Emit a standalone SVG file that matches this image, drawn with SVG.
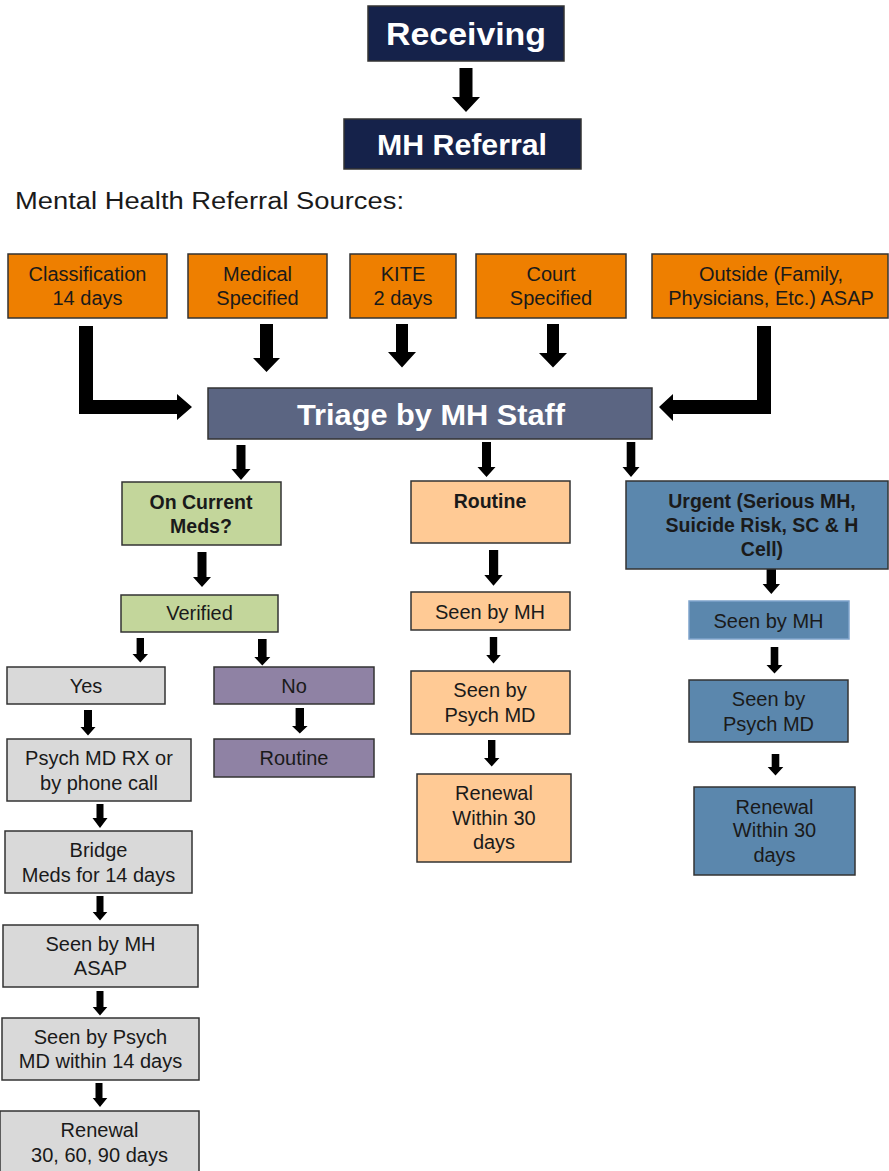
<svg xmlns="http://www.w3.org/2000/svg" width="889" height="1171" viewBox="0 0 889 1171">
<style>
.b{stroke:#333;stroke-width:1.5}
.navy{fill:#15224A}
.org{fill:#EE7F00}
.tri{fill:#5B6582}
.grn{fill:#C3D69B}
.pch{fill:#FFCA95}
.blu{fill:#5B87AD}
.gry{fill:#D9D9D9}
.pur{fill:#8F82A4}
text{font-family:"Liberation Sans",Arial,sans-serif;text-anchor:middle;fill:#1a1a1a;font-size:20px}
.wb{fill:#fff;font-weight:bold}
.bd{font-weight:bold}
.arr{fill:#000}
</style>
<rect width="889" height="1171" fill="#fff"/>
<g id="connectors" class="arr">
<polygon points="459.5,68 472.5,68 472.5,97 480,97 466,112 452,97 459.5,97"/>
<polygon points="79,326 93,326 93,400 177,400 177,394 192,407 177,420 177,414 79,414"/>
<polygon points="757,326 771,326 771,414 673,414 673,421 659,407 673,394 673,400 757,400"/>
<polygon points="260,324 273,324 273,358 280,358 266.5,372 253,358 260,358"/>
<polygon points="396,324 408,324 408,352 416,352 402,367.5 388,352 396,352"/>
<polygon points="547,324 559,324 559,353 567,353 553,367.5 539,353 547,353"/>
<polygon points="236.5,445 245.5,445 245.5,469 250.5,469 241,480 231.5,469 236.5,469"/>
<polygon points="482,442 491,442 491,467 495.5,467 486.5,477 477.5,467 482,467"/>
<polygon points="626.7,442 635.3,442 635.3,467 639.5,467 631,477 622.5,467 626.7,467"/>
<polygon points="197.5,552 206.5,552 206.5,577 211,577 202,587 193,577 197.5,577"/>
<polygon points="136.6,638 144,638 144,654 148,654 140.3,662.5 132.5,654 136.6,654"/>
<polygon points="258,639 266.6,639 266.6,657 270.3,657 262.3,665.5 254.3,657 258,657"/>
<polygon points="84,710 92,710 92,727 95.5,727 88,735.5 80.5,727 84,727"/>
<polygon points="295.6,708 304,708 304,726 307.6,726 299.8,733.5 292,726 295.6,726"/>
<polygon points="96.5,804 103.5,804 103.5,818 107.5,818 100,828 92.5,818 96.5,818"/>
<polygon points="96.5,896 103.5,896 103.5,912 107.3,912 100,920.5 92.7,912 96.5,912"/>
<polygon points="96.5,991 103.5,991 103.5,1007 107.3,1007 100,1015.5 92.7,1007 96.5,1007"/>
<polygon points="95.5,1083 102.5,1083 102.5,1098 107.3,1098 100,1107 92.7,1098 95.5,1098"/>
<polygon points="489,550 498.2,550 498.2,575 502.7,575 493.5,585.7 484.3,575 489,575"/>
<polygon points="489.8,637 497.2,637 497.2,655 500.8,655 493.5,663.5 486.2,655 489.8,655"/>
<polygon points="488,740 495.4,740 495.4,758 499.4,758 491.7,766.5 484,758 488,758"/>
<polygon points="766.6,560 776,560 776,584 780,584 771.3,594 762.6,584 766.6,584"/>
<polygon points="770.7,647 778.3,647 778.3,665 782.5,665 774.5,673.5 766.5,665 770.7,665"/>
<polygon points="771.7,754 779.3,754 779.3,767 783.3,767 775.5,775.5 767.7,767 771.7,767"/>
</g>
<g id="receiving"><rect class="b navy" x="368" y="6" width="196" height="55"/><text class="wb" x="466" y="45" textLength="160" lengthAdjust="spacingAndGlyphs" style="font-size:32px">Receiving</text></g>
<g id="mh-referral"><rect class="b navy" x="344" y="119" width="237" height="50"/><text class="wb" x="462" y="154.5" textLength="170" lengthAdjust="spacingAndGlyphs" style="font-size:30px">MH Referral</text></g>
<g id="sources-title"><text x="15" y="209" style="font-size:23px;text-anchor:start" textLength="389" lengthAdjust="spacingAndGlyphs">Mental Health Referral Sources:</text></g>
<g id="classification"><rect class="b org" x="8" y="254" width="159" height="64"/><text x="87.5" y="281">Classification</text><text x="87.5" y="305">14 days</text></g>
<g id="medical"><rect class="b org" x="188" y="254" width="139" height="64"/><text x="257.5" y="281">Medical</text><text x="257.5" y="305">Specified</text></g>
<g id="kite"><rect class="b org" x="350" y="254" width="106" height="64"/><text x="403" y="281">KITE</text><text x="403" y="305">2 days</text></g>
<g id="court"><rect class="b org" x="476" y="254" width="150" height="64"/><text x="551" y="281">Court</text><text x="551" y="305">Specified</text></g>
<g id="outside"><rect class="b org" x="652" y="254" width="236" height="64"/><text x="771" y="281">Outside (Family,</text><text x="771" y="305">Physicians, Etc.) ASAP</text></g>
<g id="triage"><rect class="b tri" x="208" y="388" width="444" height="51"/><text class="wb" x="431" y="425" textLength="268" lengthAdjust="spacingAndGlyphs" style="font-size:29px">Triage by MH Staff</text></g>
<g id="on-current-meds"><rect class="b grn" x="122" y="482" width="159" height="63"/><text class="bd" x="201" y="508.5" style="font-size:19.5px">On Current</text><text class="bd" x="201" y="533" style="font-size:19.5px">Meds?</text></g>
<g id="routine-top"><rect class="b pch" x="411" y="481" width="159" height="62"/><text class="bd" x="490" y="507.5" style="font-size:19.5px">Routine</text></g>
<g id="urgent"><rect class="b blu" x="626" y="481" width="262" height="88"/><text class="bd" x="762" y="507.5" style="font-size:19.5px">Urgent (Serious MH,</text><text class="bd" x="762" y="532" style="font-size:19.5px">Suicide Risk, SC &amp; H</text><text class="bd" x="762" y="556" style="font-size:19.5px">Cell)</text></g>
<g id="verified"><rect class="b grn" x="121" y="595" width="157" height="37"/><text x="199.5" y="620">Verified</text></g>
<g id="yes"><rect class="b gry" x="7" y="667" width="158" height="37"/><text x="86" y="693">Yes</text></g>
<g id="no"><rect class="b pur" x="214" y="667" width="160" height="37"/><text x="294" y="693">No</text></g>
<g id="routine-no"><rect class="b pur" x="214" y="739" width="160" height="38"/><text x="294" y="765">Routine</text></g>
<g id="psych-rx"><rect class="b gry" x="7" y="739" width="184" height="62"/><text x="99" y="765">Psych MD RX or</text><text x="99" y="789.5">by phone call</text></g>
<g id="bridge"><rect class="b gry" x="5" y="831" width="187" height="62"/><text x="98.5" y="857">Bridge</text><text x="98.5" y="881.5">Meds for 14 days</text></g>
<g id="seen-mh-asap"><rect class="b gry" x="3" y="925" width="195" height="62"/><text x="100.5" y="951">Seen by MH</text><text x="100.5" y="975">ASAP</text></g>
<g id="seen-psych-14"><rect class="b gry" x="2" y="1018" width="197" height="62"/><text x="100.5" y="1043.5">Seen by Psych</text><text x="100.5" y="1068">MD within 14 days</text></g>
<g id="renewal-30-60-90"><rect class="b gry" x="0" y="1111" width="199" height="70"/><text x="99.5" y="1137">Renewal</text><text x="99.5" y="1161.5">30, 60, 90 days</text></g>
<g id="seen-mh-routine"><rect class="b pch" x="411" y="592" width="159" height="38"/><text x="490" y="618.5">Seen by MH</text></g>
<g id="seen-psych-routine"><rect class="b pch" x="411" y="671" width="159" height="63"/><text x="490" y="697">Seen by</text><text x="490" y="721.5">Psych MD</text></g>
<g id="renewal-routine"><rect class="b pch" x="417" y="774" width="154" height="88"/><text x="494" y="800">Renewal</text><text x="494" y="825">Within 30</text><text x="494" y="849">days</text></g>
<g id="seen-mh-urgent"><rect class="blu" x="689" y="601" width="160" height="38" stroke="#7FA4CC" stroke-width="1.5"/><text x="768.5" y="627.5">Seen by MH</text></g>
<g id="seen-psych-urgent"><rect class="b blu" x="689" y="680" width="159" height="62"/><text x="768.5" y="706">Seen by</text><text x="768.5" y="730.5">Psych MD</text></g>
<g id="renewal-urgent"><rect class="b blu" x="694" y="787" width="161" height="88"/><text x="774.5" y="813.5">Renewal</text><text x="774.5" y="837">Within 30</text><text x="774.5" y="861.5">days</text></g>
</svg>
